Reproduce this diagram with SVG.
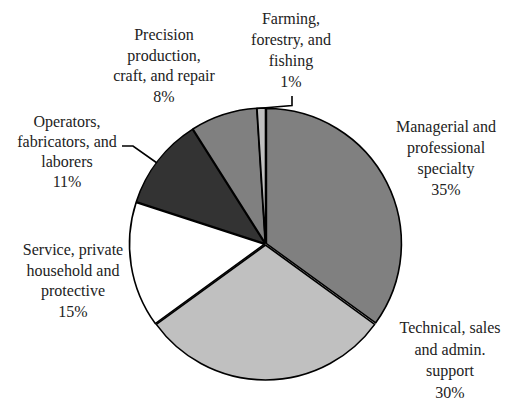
<svg xmlns="http://www.w3.org/2000/svg" width="506" height="402" viewBox="0 0 506 402">
<style>
.sl{stroke:#000;stroke-width:1.6;stroke-linejoin:round}
.lb{font-size:16px;fill:#222;text-anchor:middle}
.ld{fill:none;stroke:#000;stroke-width:1.6}
</style>
<rect width="506" height="402" fill="#fff"/>
<g id="managerial">
<path class="sl" fill="#808080" transform="translate(0.9,-0.45)" d="M265.5,244 L265.5,109 A135,135 0 0 1 374.7,323.4 Z"/>
<text class="lb" font-family="Liberation Serif, DejaVu Serif, serif" x="446" y="132"><tspan x="446">Managerial and</tspan><tspan x="446" dy="21">professional</tspan><tspan x="446" dy="21">specialty</tspan><tspan x="446" dy="21">35%</tspan></text>
</g>
<g id="technical">
<path class="sl" fill="#c0c0c0" transform="translate(0,1)" d="M265.5,244 L374.7,323.4 A135,135 0 0 1 156.3,323.4 Z"/>
<text class="lb" font-family="Liberation Serif, DejaVu Serif, serif" x="450" y="333"><tspan x="450">Technical, sales</tspan><tspan x="450" dy="21.5">and admin.</tspan><tspan x="450" dy="21.5">support</tspan><tspan x="450" dy="21.5">30%</tspan></text>
</g>
<g id="service">
<path class="sl" fill="#ffffff" transform="translate(-1,0.15)" d="M265.5,244 L156.3,323.4 A135,135 0 0 1 137.1,202.3 Z"/>
<text class="lb" font-family="Liberation Serif, DejaVu Serif, serif" x="73" y="255"><tspan x="73">Service, private</tspan><tspan x="73" dy="20.5">household and</tspan><tspan x="73" dy="20.5">protective</tspan><tspan x="73" dy="20.5">15%</tspan></text>
</g>
<g id="operators">
<path class="sl" fill="#333333" transform="translate(-0.8,-0.6)" d="M265.5,244 L137.1,202.3 A135,135 0 0 1 193.2,130 Z"/>
<text class="lb" font-family="Liberation Serif, DejaVu Serif, serif" x="67" y="127"><tspan x="67">Operators,</tspan><tspan x="67" dy="20">fabricators, and</tspan><tspan x="67" dy="20">laborers</tspan><tspan x="67" dy="20">11%</tspan></text>
</g>
<g id="precision">
<path class="sl" fill="#808080" transform="translate(-0.3,-1)" d="M265.5,244 L193.2,130 A135,135 0 0 1 257,109.3 Z"/>
<text class="lb" font-family="Liberation Serif, DejaVu Serif, serif" x="164" y="40"><tspan x="164">Precision</tspan><tspan x="164" dy="20.7">production,</tspan><tspan x="164" dy="20.7">craft, and repair</tspan><tspan x="164" dy="20.7">8%</tspan></text>
</g>
<g id="farming">
<path class="sl" fill="#c0c0c0" transform="translate(0,-1)" d="M265.5,244 L257,109.3 A135,135 0 0 1 265.5,109 Z"/>
<text class="lb" font-family="Liberation Serif, DejaVu Serif, serif" x="291" y="24"><tspan x="291">Farming,</tspan><tspan x="291" dy="21">forestry, and</tspan><tspan x="291" dy="21">fishing</tspan><tspan x="291" dy="21">1%</tspan></text>
</g>
<g id="connectors">
<path class="ld" d="M122,146 L133,146 L157,163"/>
<path class="ld" d="M292,96 L292,105.5 L257,108.5"/>
</g>
</svg>
